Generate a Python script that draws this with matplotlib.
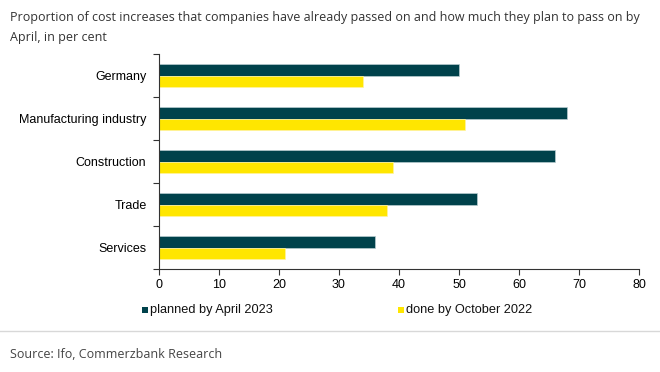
import matplotlib.pyplot as plt
import matplotlib.patches as patches
from matplotlib.lines import Line2D
import numpy as np

# Data
categories = ['Germany', 'Manufacturing industry', 'Construction', 'Trade', 'Services']
planned = [50, 68, 66, 53, 36]
done = [34, 51, 39, 38, 21]
series_names = ['planned by April 2023', 'done by October 2022']

DARK = '#00424B'
YELLOW = '#FFE600'

plt.rcParams['font.family'] = ['Liberation Sans', 'DejaVu Sans']

fig = plt.figure(figsize=(6.6, 3.72), dpi=100)
ax = fig.add_axes([159 / 660, 1 - 269 / 372, 480 / 660, 215 / 372])

y = np.arange(len(categories))[::-1]
h = 0.26
ax.barh(y + h / 2, planned, height=h, color=DARK, edgecolor='#B8CCD0', linewidth=0.5)
ax.barh(y - h / 2, done, height=h, color=YELLOW, edgecolor='#FFF3A0', linewidth=0.5)

ax.set_xlim(0, 80)
ax.set_ylim(-0.5, len(categories) - 0.5)
ax.set_xticks(range(0, 81, 10))
ax.set_yticks(y)
ax.set_yticklabels(categories, fontsize=9)
ax.set_yticks(np.arange(-0.5, len(categories), 1), minor=True)
ax.tick_params(axis='y', which='major', length=0, pad=9)
ax.tick_params(axis='y', which='minor', length=4, width=0.8, color='#333333')
ax.tick_params(axis='x', length=4, width=0.8, color='#333333', labelsize=9, pad=3)
for s in ['top', 'right']:
    ax.spines[s].set_visible(False)
for s in ['left', 'bottom']:
    ax.spines[s].set_color('#333333')
    ax.spines[s].set_linewidth(0.8)

# Title
fig.text(10 / 660, 1 - 17 / 372, 'Proportion of cost increases that companies have already passed on and how much they plan to pass on by',
         fontsize=9, family=['Open Sans', 'DejaVu Sans'], color='#333333', va='center')
fig.text(10 / 660, 1 - 38 / 372, 'April, in per cent',
         fontsize=9, family=['Open Sans', 'DejaVu Sans'], color='#333333', va='center')

# Legend
for xpos, col, name in [(142, DARK, series_names[0]), (398, YELLOW, series_names[1])]:
    fig.patches.append(patches.Rectangle((xpos / 660, 1 - 313 / 372), 6 / 660, 6 / 372,
                                         transform=fig.transFigure, facecolor=col, edgecolor='none'))
    fig.text((xpos + 8) / 660, 1 - 309.5 / 372, name, fontsize=9.2, va='center', color='#111111')

# Separator
fig.add_artist(Line2D([0, 1], [1 - 331 / 372, 1 - 331 / 372], transform=fig.transFigure,
                      color='#D8D8D8', linewidth=1))

# Source
fig.text(10 / 660, 1 - 355 / 372, 'Source: Ifo, Commerzbank Research',
         fontsize=9, family=['Open Sans', 'DejaVu Sans'], color='#444444', va='center')

fig.savefig('out.png', dpi=100)
